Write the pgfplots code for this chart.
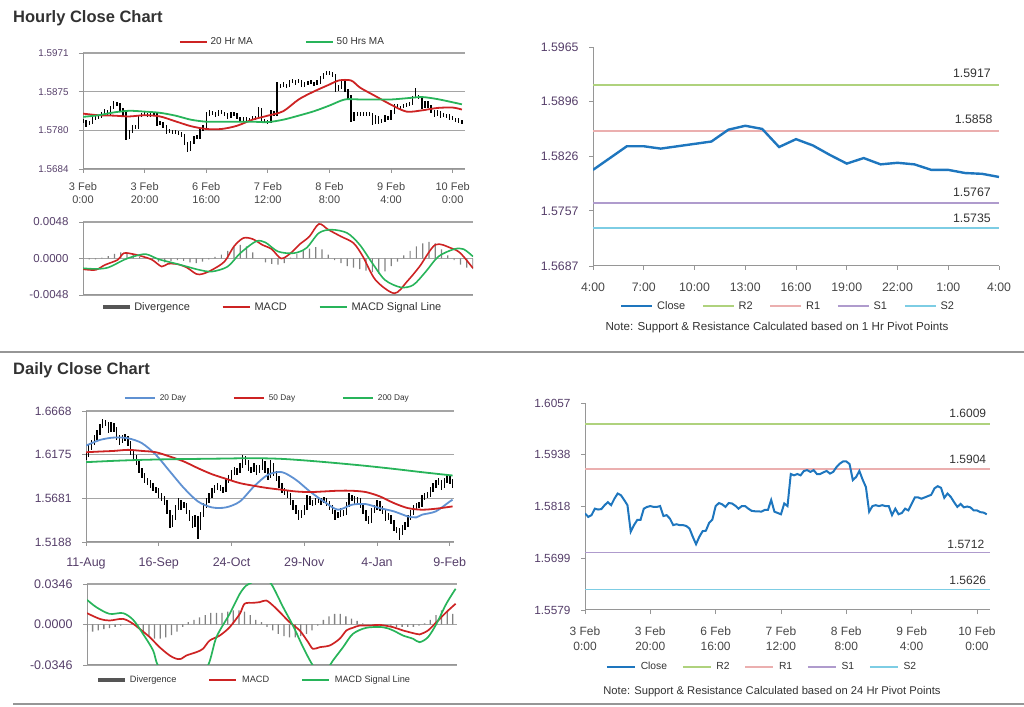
\documentclass[border=0pt]{standalone}
\usepackage{pgfplots}
\pgfplotsset{compat=1.18}
\usepackage{pgfplotstable}
\usepackage{fontspec}
\setmainfont{Liberation Sans}
\definecolor{tkY}{RGB}{85,62,105}
\definecolor{tkX}{RGB}{70,70,70}
\definecolor{axg}{RGB}{150,150,150}
\definecolor{gridc}{RGB}{165,165,165}
\definecolor{maR}{RGB}{205,35,35}
\definecolor{maG}{RGB}{40,180,90}
\definecolor{maB}{RGB}{95,145,210}
\definecolor{clB}{RGB}{30,118,190}
\definecolor{pR2}{RGB}{175,210,125}
\definecolor{pR1}{RGB}{235,175,175}
\definecolor{pS1}{RGB}{175,155,205}
\definecolor{pS2}{RGB}{125,205,228}
\definecolor{divg}{RGB}{130,130,130}
\definecolor{divl}{RGB}{85,85,85}
\definecolor{txt}{RGB}{50,50,50}

\pgfplotstableread{
t c ep em
0 1.5802 .0005 .0005
1 1.5794 .0011 .0005
2 1.5798 .0005 .0005
3 1.5813 .0005 .0018
4 1.5811 .0005 .0005
5 1.5812 .0005 .0005
6 1.5821 .0005 .0012
7 1.5828 .0005 .0010
8 1.5821 .0010 .0005
9 1.5836 .0005 .0018
10 1.5848 .0005 .0015
11 1.5844 .0005 .0005
12 1.5833 .0014 .0005
13 1.5821 .0015 .0005
14 1.5760 .0064 .0005
15 1.5775 .0005 .0018
16 1.5787 .0005 .0015
17 1.5787 .0005 .0005
18 1.5813 .0005 .0029
19 1.5817 .0005 .0005
20 1.5819 .0005 .0005
21 1.5817 .0005 .0005
22 1.5817 .0005 .0005
23 1.5819 .0005 .0005
24 1.5796 .0026 .0005
25 1.5798 .0005 .0005
26 1.5790 .0011 .0005
27 1.5775 .0018 .0005
28 1.5777 .0005 .0005
29 1.5775 .0005 .0005
30 1.5775 .0005 .0005
31 1.5773 .0005 .0005
32 1.5767 .0009 .0005
33 1.5748 .0022 .0005
34 1.5731 .0020 .0005
35 1.5748 .0005 .0020
36 1.5761 .0005 .0016
37 1.5762 .0005 .0005
38 1.5780 .0005 .0021
39 1.5788 .0005 .0011
40 1.5819 .0005 .0034
41 1.5826 .0005 .0010
42 1.5823 .0005 .0005
43 1.5817 .0009 .0005
44 1.5826 .0005 .0012
45 1.5825 .0005 .0005
46 1.5820 .0005 .0005
47 1.5813 .0010 .0005
48 1.5819 .0005 .0009
49 1.5819 .0005 .0005
50 1.5813 .0009 .0005
51 1.5808 .0005 .0005
52 1.5807 .0005 .0005
53 1.5807 .0005 .0005
54 1.5806 .0005 .0005
55 1.5810 .0005 .0005
56 1.5810 .0005 .0005
57 1.5833 .0005 .0026
58 1.5806 .0030 .0005
59 1.5803 .0005 .0005
60 1.5800 .0005 .0005
61 1.5825 .0005 .0028
62 1.5819 .0009 .0005
63 1.5893 .0005 .0077
64 1.5890 .0005 .0005
65 1.5893 .0005 .0005
66 1.5890 .0005 .0005
67 1.5900 .0005 .0013
68 1.5902 .0005 .0005
69 1.5898 .0005 .0005
70 1.5902 .0005 .0005
71 1.5893 .0012 .0005
72 1.5893 .0005 .0005
73 1.5897 .0005 .0005
74 1.5900 .0005 .0005
75 1.5894 .0005 .0005
76 1.5898 .0005 .0005
77 1.5909 .0005 .0014
78 1.5917 .0005 .0011
79 1.5922 .0005 .0005
80 1.5922 .0005 .0005
81 1.5916 .0009 .0005
82 1.5879 .0040 .0005
83 1.5886 .0005 .0010
84 1.5900 .0005 .0017
85 1.5880 .0023 .0005
86 1.5863 .0020 .0005
87 1.5806 .0060 .0005
88 1.5819 .0005 .0016
89 1.5821 .0005 .0005
90 1.5819 .0005 .0005
91 1.5821 .0005 .0005
92 1.5819 .0005 .0005
93 1.5819 .0005 .0005
94 1.5798 .0024 .0005
95 1.5813 .0005 .0018
96 1.5800 .0016 .0005
97 1.5803 .0005 .0005
98 1.5813 .0005 .0013
99 1.5809 .0005 .0005
100 1.5824 .0005 .0018
101 1.5839 .0005 .0018
102 1.5839 .0005 .0005
103 1.5836 .0005 .0005
104 1.5839 .0005 .0005
105 1.5842 .0005 .0005
106 1.5845 .0005 .0005
107 1.5860 .0005 .0018
108 1.5865 .0020 .0005
109 1.5861 .0005 .0005
110 1.5838 .0026 .0005
111 1.5848 .0005 .0013
112 1.5840 .0011 .0005
113 1.5828 .0015 .0005
114 1.5817 .0014 .0005
115 1.5824 .0005 .0010
116 1.5816 .0011 .0005
117 1.5818 .0005 .0005
118 1.5816 .0005 .0005
119 1.5809 .0010 .0005
120 1.5809 .0005 .0005
121 1.5805 .0005 .0005
122 1.5804 .0005 .0005
123 1.5800 .0005 .0005
}\hourly

\pgfplotstableread{
t r
0 1.5821
5 1.5817
10 1.5816
15 1.5814
20 1.5817
25 1.5814
30 1.5802
35 1.5790
40 1.5783
45 1.5783
50 1.5791
55 1.5806
60 1.5816
65 1.5827
70 1.5856
75 1.5876
80 1.5893
83 1.5903
87 1.5903
90 1.5885
95 1.5864
100 1.5843
105 1.5826
110 1.5829
115 1.5835
120 1.5836
123 1.5831
}\hma

\pgfplotstableread{
t g
0 1.5813
5 1.5817
10 1.5824
15 1.5828
20 1.5826
25 1.5823
30 1.5816
35 1.5806
40 1.5801
45 1.5801
50 1.5801
55 1.5801
60 1.5800
65 1.5806
70 1.5816
75 1.5827
80 1.5841
85 1.5856
90 1.5856
95 1.5856
100 1.5856
105 1.5859
110 1.5862
115 1.5857
120 1.5849
123 1.5844
}\hmb

\pgfplotstableread{
t m
0 -0.00141
4 -0.00150
7 -0.00084
11 -0.00018
13 0.00070
16 0.00057
19 0.00026
22 -0.00018
25 -0.00106
27 -0.00070
30 -0.00075
33 -0.00119
36 -0.00203
38 -0.00203
41 -0.00150
45 -0.00040
48 0.00159
51 0.00269
54 0.00255
57 0.00180
60 0.00123
63 0.00000
66 0.00070
69 0.00190
72 0.00290
75 0.00454
78 0.00379
82 0.00290
86 0.00203
89 0.00026
93 -0.00282
99 -0.00458
103 -0.00304
107 -0.00106
112 0.00180
117 0.00137
120 0.00070
124 -0.00128
}\hmacd

\pgfplotstableread{
t s
0 -0.00128
4 -0.00137
8 -0.00119
13 -0.00018
16 0.00026
20 0.00057
24 -0.00009
29 -0.00062
33 -0.00106
37 -0.00150
41 -0.00172
46 -0.00106
50 0.00070
55 0.00225
58 0.00211
62 0.00092
67 0.00070
71 0.00137
75 0.00335
79 0.00379
84 0.00335
88 0.00180
92 -0.00062
96 -0.00282
101 -0.00379
105 -0.00348
109 -0.00172
113 0.00026
118 0.00123
121 0.00123
124 0.00026
}\hsig

\pgfplotstableread{
t d
0 0.0000
2 -0.0001
4 -0.0001
6 0.0001
8 0.0003
10 0.0006
12 0.0008
14 0.0008
16 0.0006
18 0.0002
20 0.0001
22 -0.0002
24 -0.0004
26 -0.0005
28 -0.0003
30 -0.0002
32 -0.0003
34 -0.0005
36 -0.0006
38 -0.0004
40 -0.0001
42 0.0002
44 0.0005
46 0.0010
48 0.0015
50 0.0018
52 0.0016
54 0.0008
56 0.0000
58 -0.0005
60 -0.0007
62 -0.0008
64 -0.0006
66 0.0001
68 0.0006
70 0.0010
72 0.0013
74 0.0015
76 0.0012
78 0.0005
80 -0.0002
82 -0.0006
84 -0.0010
86 -0.0012
88 -0.0014
90 -0.0016
92 -0.0018
94 -0.0020
96 -0.0017
98 -0.0010
100 -0.0004
102 0.0004
104 0.0010
106 0.0016
108 0.0020
110 0.0022
112 0.0020
114 0.0012
116 0.0004
118 -0.0002
120 -0.0008
122 -0.0012
124 -0.0014
}\hdiv

\pgfplotstableread{
h c
0 1.5809
1 1.5824
2 1.5839
3 1.5839
4 1.5836
5 1.5839
6 1.5842
7 1.5845
8 1.5860
9 1.5865
10 1.5861
11 1.5838
12 1.5848
13 1.5840
14 1.5828
15 1.5817
16 1.5824
17 1.5816
18 1.5818
19 1.5816
20 1.5809
21 1.5809
22 1.5805
23 1.5804
24 1.5800
}\pivh

\pgfplotstableread{
i c ep em
0 1.6172 .0035 .0060
1 1.6247 .0035 .0095
2 1.6304 .0035 .0077
3 1.6360 .0035 .0076
4 1.6416 .0035 .0076
5 1.6491 .0035 .0095
6 1.6548 .0035 .0077
7 1.6529 .0035 .0035
8 1.6454 .0095 .0035
9 1.6510 .0035 .0076
10 1.6465 .0065 .0035
11 1.6379 .0106 .0035
12 1.6322 .0077 .0035
13 1.6360 .0035 .0058
14 1.6368 .0035 .0035
15 1.6304 .0084 .0035
16 1.6210 .0114 .0035
17 1.6153 .0077 .0035
18 1.6097 .0076 .0035
19 1.6003 .0114 .0035
20 1.5947 .0076 .0035
21 1.5891 .0076 .0035
22 1.5872 .0035 .0035
23 1.5834 .0058 .0035
24 1.5797 .0057 .0035
25 1.5778 .0035 .0035
26 1.5721 .0077 .0035
27 1.5684 .0057 .0035
28 1.5646 .0058 .0035
29 1.5534 .0132 .0035
30 1.5383 .0171 .0035
31 1.5459 .0035 .0096
32 1.5571 .0035 .0132
33 1.5646 .0035 .0095
34 1.5590 .0076 .0035
35 1.5609 .0035 .0035
36 1.5534 .0095 .0035
37 1.5459 .0095 .0035
38 1.5383 .0096 .0035
39 1.5459 .0035 .0096
40 1.5346 .0133 .0120
41 1.5496 .0035 .0170
42 1.5590 .0035 .0114
43 1.5646 .0035 .0076
44 1.5703 .0035 .0077
45 1.5759 .0035 .0076
46 1.5797 .0035 .0058
47 1.5815 .0035 .0035
48 1.5797 .0035 .0035
49 1.5778 .0035 .0035
50 1.5872 .0035 .0114
51 1.5909 .0035 .0057
52 1.5966 .0035 .0077
53 1.6003 .0035 .0057
54 1.5984 .0035 .0035
55 1.6041 .0035 .0077
56 1.6116 .0050 .0095
57 1.6097 .0060 .0035
58 1.6022 .0095 .0035
59 1.6003 .0035 .0035
60 1.6041 .0035 .0058
61 1.5984 .0077 .0035
62 1.6022 .0035 .0058
63 1.6078 .0060 .0076
64 1.6003 .0095 .0035
65 1.5928 .0095 .0035
66 1.6060 .0060 .0152
67 1.5966 .0114 .0035
68 1.5909 .0077 .0035
69 1.5834 .0095 .0035
70 1.5778 .0076 .0035
71 1.5759 .0035 .0035
72 1.5721 .0058 .0035
73 1.5646 .0095 .0035
74 1.5590 .0076 .0035
75 1.5534 .0076 .0035
76 1.5477 .0077 .0035
77 1.5515 .0035 .0058
78 1.5571 .0035 .0076
79 1.5684 .0035 .0133
80 1.5646 .0058 .0035
81 1.5628 .0035 .0035
82 1.5646 .0035 .0035
83 1.5665 .0035 .0035
84 1.5646 .0035 .0035
85 1.5665 .0035 .0035
86 1.5628 .0057 .0035
87 1.5590 .0058 .0035
88 1.5534 .0076 .0035
89 1.5477 .0077 .0035
90 1.5496 .0035 .0035
91 1.5534 .0035 .0058
92 1.5515 .0035 .0035
93 1.5609 .0035 .0114
94 1.5703 .0035 .0114
95 1.5684 .0035 .0035
96 1.5646 .0058 .0035
97 1.5665 .0035 .0035
98 1.5609 .0076 .0035
99 1.5534 .0095 .0035
100 1.5459 .0095 .0035
101 1.5421 .0058 .0035
102 1.5534 .0035 .0133
103 1.5571 .0035 .0057
104 1.5628 .0035 .0077
105 1.5571 .0077 .0035
106 1.5534 .0057 .0035
107 1.5459 .0095 .0035
108 1.5477 .0035 .0035
109 1.5421 .0076 .0035
110 1.5346 .0095 .0035
111 1.5327 .0035 .0035
112 1.5290 .0057 .0080
113 1.5346 .0035 .0076
114 1.5383 .0035 .0057
115 1.5459 .0035 .0096
116 1.5515 .0035 .0076
117 1.5571 .0035 .0076
118 1.5590 .0035 .0035
119 1.5609 .0035 .0035
120 1.5684 .0035 .0095
121 1.5703 .0035 .0035
122 1.5721 .0035 .0035
123 1.5778 .0035 .0077
124 1.5815 .0035 .0057
125 1.5853 .0035 .0058
126 1.5872 .0035 .0035
127 1.5815 .0077 .0035
128 1.5872 .0035 .0077
129 1.5909 .0040 .0057
130 1.5879 .0050 .0035
131 1.5834 .0065 .0035
}\daily

\pgfplotstableread{
i b
0 1.6277
5 1.6341
10 1.6368
15 1.6360
20 1.6304
25 1.6172
30 1.5984
35 1.5797
40 1.5646
45 1.5579
50 1.5579
55 1.5646
60 1.5815
65 1.5947
70 1.5977
75 1.5891
80 1.5759
85 1.5646
90 1.5553
95 1.5609
100 1.5616
105 1.5571
110 1.5534
115 1.5477
118 1.5466
120 1.5496
125 1.5534
130 1.5646
131 1.5665
}\dtw

\pgfplotstableread{
i r
0 1.6202
5 1.6210
10 1.6217
15 1.6229
20 1.6217
25 1.6202
30 1.6153
35 1.6097
40 1.6022
45 1.5954
50 1.5902
55 1.5853
60 1.5823
65 1.5797
70 1.5778
75 1.5759
80 1.5752
85 1.5759
90 1.5767
95 1.5767
100 1.5752
105 1.5703
110 1.5628
115 1.5571
120 1.5553
125 1.5564
131 1.5590
}\dfi

\pgfplotstableread{
i g
0 1.6090
10 1.6105
20 1.6116
30 1.6123
40 1.6127
50 1.6131
60 1.6135
70 1.6127
80 1.6105
90 1.6078
100 1.6048
110 1.6014
120 1.5977
131 1.5939
}\dth

\pgfplotstableread{
i m
0 0.0097
4.5 0.0048
8 0.0034
12.8 0.0048
16.4 0.0006
18.7 -0.0037
22.3 -0.0108
25.8 -0.0194
29.4 -0.0265
31.8 -0.0293
33.5 -0.0293
35.3 -0.0265
38.9 -0.0236
41.2 -0.0208
43.6 -0.0137
47.2 -0.0094
50.7 -0.0023
54.3 0.0091
56 0.0177
59 0.0185
61.4 0.0191
63.7 0.0205
66.1 0.0162
69.1 0.0091
72 0.0020
75.6 -0.0051
78.6 -0.0151
80.3 -0.0208
82.7 -0.0194
86.3 -0.0179
89.8 -0.0122
92.2 -0.0051
94.5 -0.0028
96.9 -0.0009
100.5 -0.0009
104 -0.0003
108.8 -0.0023
112.3 -0.0051
117 -0.0080
118.2 -0.0085
121.2 -0.0051
124.2 0.0020
127.7 0.0105
131 0.0177
}\dmacd

\pgfplotstableread{
i s
0 0.0211
3.3 0.0148
8 0.0091
12.8 0.0097
16.4 0.0040
19.9 -0.0080
23.5 -0.0222
25.2 -0.0350
30 -0.0500
34 -0.0550
38 -0.0470
43 -0.0350
46 -0.0108
50.7 0.0091
54.3 0.0262
56.6 0.0333
59 0.0365
62 0.0420
65.5 0.0346
69.7 0.0148
73.2 -0.0009
76.8 -0.0194
80.3 -0.0350
83 -0.0400
86.3 -0.0350
87.4 -0.0308
91 -0.0194
94.5 -0.0080
99.3 -0.0028
105.2 -0.0023
108.8 -0.0051
112.3 -0.0094
115.9 -0.0122
118.2 -0.0151
121.2 -0.0108
124.2 0.0006
127.7 0.0177
131 0.0305
}\dsig

\pgfplotstableread{
i d
0 -0.006
2 -0.006
4 -0.005
6 -0.004
8 -0.003
10 -0.002
12 -0.001
14 0.000
16 0.001
18 -0.003
20 -0.007
22 -0.010
24 -0.012
26 -0.012
28 -0.011
30 -0.009
32 -0.006
34 -0.002
36 0.002
38 0.004
40 0.006
42 0.008
44 0.010
46 0.010
48 0.010
50 0.011
52 0.012
54 0.012
56 0.011
58 0.008
60 0.004
62 0.002
64 -0.002
66 -0.005
68 -0.008
70 -0.010
72 -0.011
74 -0.011
76 -0.010
78 -0.008
80 -0.005
82 -0.001
84 0.004
86 0.007
88 0.009
90 0.009
92 0.007
94 0.005
96 0.003
98 0.001
100 0.000
102 -0.001
104 -0.001
106 0.000
108 -0.001
110 -0.002
112 -0.002
114 -0.002
116 -0.002
118 -0.001
120 0.001
122 0.004
124 0.008
126 0.012
128 0.011
130 0.009
}\ddiv

\pgfplotsset{
 base/.style={scale only axis, anchor=south west, axis lines*=left, scaled ticks=false,
   axis line style={axg, line width=1pt}, tick align=outside, major tick length=4pt,
   every tick/.style={axg, line width=0.8pt}, yticklabel style={text=tkY, xshift=-7pt},
   legend cell align=left, legend columns=-1,
   legend image code/.code={\draw[#1] (0pt,0pt) -- (27pt,0pt);}},
 withgrid/.style={ymajorgrids, grid style={gridc, line width=1.1pt}},
 divlegend/.style={legend image code/.code={\fill[divl] (0pt,-2.2pt) rectangle (27pt,2.2pt);}},
 ohlc/.style={forget plot, draw=none, mark=none,
   error bars/.cd, y dir=both, y explicit, error mark=none,
   error bar style={draw=black, line width=#1}},
}

\begin{document}
\begin{tikzpicture}
\path[use as bounding box] (0pt,0pt) rectangle (1024pt,706pt);
\node[anchor=base west, inner sep=0pt, text=txt, font=\fontsize{16.5}{18}\selectfont\bfseries] at (13pt,683.3pt) {Hourly Close Chart};
\node[anchor=base west, inner sep=0pt, text=txt, font=\fontsize{16.5}{18}\selectfont\bfseries] at (13pt,331pt) {Daily Close Chart};
\draw[axg, line width=2pt] (0pt,354pt) -- (1024pt,354pt);
\draw[axg, line width=2pt] (13pt,2pt) -- (1024pt,2pt);

% Panel 1: hourly price
\begin{axis}[base, withgrid, at={(83pt,537pt)}, width=382pt, height=116pt,
  xmin=0, xmax=124, ymin=1.5684, ymax=1.5971,
  xtick={0,20,40,60,80,100,120},
  xticklabels={{3 Feb\\0:00},{3 Feb\\20:00},{6 Feb\\16:00},{7 Feb\\12:00},{8 Feb\\8:00},{9 Feb\\4:00},{10 Feb\\0:00}},
  xticklabel style={align=center, text=tkX, font=\fontsize{11}{13}\selectfont, yshift=-6pt},
  ytick={1.5684,1.5780,1.5875,1.5971},
  yticklabels={1.5684,1.5780,1.5875,1.5971},
  yticklabel style={font=\fontsize{9.8}{11}\selectfont},
  legend style={at={(0.522,1.095)}, anchor=center, draw=none, fill=none, inner sep=0pt,
    font=\fontsize{10}{12}\selectfont, text=txt,
    /tikz/every odd column/.append style={column sep=1pt},
    /tikz/every even column/.append style={column sep=50pt}}]
\addplot[ohlc=1.3pt] table[x=t, y=c, y error plus=ep, y error minus=em] {\hourly};
\addplot[maR, line width=1.8pt, smooth] table[x=t, y=r] {\hma};
\addlegendentry{20 Hr MA}
\addplot[maG, line width=1.8pt, smooth] table[x=t, y=g] {\hmb};
\addlegendentry{50 Hrs MA}
\end{axis}

% Panel 2: hourly MACD
\begin{axis}[base, withgrid, at={(83pt,411pt)}, width=390pt, height=73pt,
  xmin=0, xmax=124, ymin=-0.0048, ymax=0.0048, xtick=\empty,
  ytick={-0.0048,0,0.0048}, yticklabels={-0.0048,0.0000,0.0048},
  yticklabel style={font=\fontsize{11.5}{13}\selectfont},
  legend style={at={(0.488,-0.164)}, anchor=center, draw=none, fill=none, inner sep=0pt,
    font=\fontsize{11}{13}\selectfont, text=txt,
    /tikz/every odd column/.append style={column sep=2pt},
    /tikz/every even column/.append style={column sep=30pt}}]
\addplot[ybar, bar width=1.2pt, bar shift=0pt, fill=divg, draw=none, divlegend] table[x=t, y=d] {\hdiv};
\addlegendentry{Divergence}
\addplot[maR, line width=1.6pt, smooth] table[x=t, y=m] {\hmacd};
\addlegendentry{MACD}
\addplot[maG, line width=1.6pt, smooth] table[x=t, y=s] {\hsig};
\addlegendentry{MACD Signal Line}
\end{axis}

% Panel 3: hourly pivot
\begin{axis}[base, at={(593pt,440pt)}, width=406pt, height=219pt,
  xmin=0, xmax=24, ymin=1.5687, ymax=1.5965,
  xtick={0,3,6,9,12,15,18,21,24},
  xticklabels={4:00,7:00,10:00,13:00,16:00,19:00,22:00,1:00,4:00},
  xticklabel style={text=tkX, font=\fontsize{12.3}{14}\selectfont, yshift=-9pt},
  ytick={1.5687,1.5757,1.5826,1.5896,1.5965},
  yticklabels={1.5687,1.5757,1.5826,1.5896,1.5965},
  yticklabel style={font=\fontsize{12.3}{14}\selectfont},
  legend style={at={(0.48,-0.183)}, anchor=center, draw=none, fill=none, inner sep=0pt,
    font=\fontsize{11}{13}\selectfont, text=txt,
    /tikz/every odd column/.append style={column sep=2pt},
    /tikz/every even column/.append style={column sep=15pt}},
  legend image code/.code={\draw[#1] (0pt,0pt) -- (31pt,0pt);}]
\addplot[forget plot, pR2, line width=1.6pt] coordinates {(0,1.5917) (24,1.5917)};
\addplot[forget plot, pR1, line width=1.6pt] coordinates {(0,1.5858) (24,1.5858)};
\addplot[forget plot, pS1, line width=1.6pt] coordinates {(0,1.5767) (24,1.5767)};
\addplot[forget plot, pS2, line width=1.6pt] coordinates {(0,1.5735) (24,1.5735)};
\addplot[clB, line width=2.4pt] table[x=h, y=c] {\pivh};
\addlegendentry{Close}
\addlegendimage{pR2, line width=1.4pt}\addlegendentry{R2}
\addlegendimage{pR1, line width=1.4pt}\addlegendentry{R1}
\addlegendimage{pS1, line width=1.4pt}\addlegendentry{S1}
\addlegendimage{pS2, line width=1.4pt}\addlegendentry{S2}
\node[anchor=base, inner sep=0pt, text=txt, font=\fontsize{12.3}{14}\selectfont, yshift=7pt] at (axis cs:22.4,1.5917) {1.5917};
\node[anchor=base, inner sep=0pt, text=txt, font=\fontsize{12.3}{14}\selectfont, yshift=8pt] at (axis cs:22.5,1.5858) {1.5858};
\node[anchor=base, inner sep=0pt, text=txt, font=\fontsize{12.3}{14}\selectfont, yshift=6pt] at (axis cs:22.4,1.5767) {1.5767};
\node[anchor=base, inner sep=0pt, text=txt, font=\fontsize{12.3}{14}\selectfont, yshift=6pt] at (axis cs:22.4,1.5735) {1.5735};
\end{axis}
\node[text=txt, font=\fontsize{11.6}{13}\selectfont] at (777pt,378pt) {Note: Support \& Resistance Calculated based on 1 Hr Pivot Points};

% Panel 4: daily price
\begin{axis}[base, withgrid, at={(86pt,164pt)}, width=368pt, height=131pt,
  xmin=0, xmax=131.5, ymin=1.5188, ymax=1.6668,
  xtick={0,26,52,78,104,130},
  xticklabels={11-Aug,16-Sep,24-Oct,29-Nov,4-Jan,9-Feb},
  xticklabel style={text=tkY, font=\fontsize{12.5}{14}\selectfont, yshift=-8pt},
  ytick={1.5188,1.5681,1.6175,1.6668},
  yticklabels={1.5188,1.5681,1.6175,1.6668},
  yticklabel style={font=\fontsize{12}{14}\selectfont},
  legend style={at={(0.493,1.099)}, anchor=center, draw=none, fill=none, inner sep=0pt,
    font=\fontsize{8.3}{10}\selectfont, text=txt,
    /tikz/every odd column/.append style={column sep=2pt},
    /tikz/every even column/.append style={column sep=45pt}},
  legend image code/.code={\draw[#1] (0pt,0pt) -- (30pt,0pt);}]
\addplot[ohlc=1.4pt] table[x=i, y=c, y error plus=ep, y error minus=em] {\daily};
\addplot[maB, line width=1.8pt, smooth] table[x=i, y=b] {\dtw};
\addlegendentry{20 Day}
\addplot[maR, line width=1.8pt, smooth] table[x=i, y=r] {\dfi};
\addlegendentry{50 Day}
\addplot[maG, line width=1.8pt, smooth] table[x=i, y=g] {\dth};
\addlegendentry{200 Day}
\end{axis}

% Panel 5: daily MACD
\begin{axis}[base, withgrid, at={(87pt,41pt)}, width=370pt, height=81pt,
  xmin=0, xmax=131.5, ymin=-0.0346, ymax=0.0346, xtick=\empty,
  ytick={-0.0346,0,0.0346}, yticklabels={-0.0346,0.0000,0.0346},
  yticklabel style={font=\fontsize{12.5}{14}\selectfont},
  legend style={at={(0.454,-0.185)}, anchor=center, draw=none, fill=none, inner sep=0pt,
    font=\fontsize{9.2}{11}\selectfont, text=txt,
    /tikz/every odd column/.append style={column sep=3pt},
    /tikz/every even column/.append style={column sep=30pt}}]
\addplot[ybar, bar width=1.3pt, bar shift=0pt, fill=divg, draw=none, divlegend] table[x=i, y=d] {\ddiv};
\addlegendentry{Divergence}
\addplot[maR, line width=1.7pt, smooth] table[x=i, y=m] {\dmacd};
\addlegendentry{MACD}
\addplot[maG, line width=1.7pt, smooth] table[x=i, y=s] {\dsig};
\addlegendentry{MACD Signal Line}
\end{axis}

% Panel 6: hourly close, week
\begin{axis}[base, at={(585pt,96pt)}, width=405pt, height=207pt,
  xmin=0, xmax=124, ymin=1.5579, ymax=1.6057,
  xtick={0,20,40,60,80,100,120},
  xticklabels={{3 Feb\\0:00},{3 Feb\\20:00},{6 Feb\\16:00},{7 Feb\\12:00},{8 Feb\\8:00},{9 Feb\\4:00},{10 Feb\\0:00}},
  xticklabel style={align=center, text=tkX, font=\fontsize{12}{15}\selectfont, yshift=-9pt},
  ytick={1.5579,1.5699,1.5818,1.5938,1.6057},
  yticklabels={1.5579,1.5699,1.5818,1.5938,1.6057},
  yticklabel style={font=\fontsize{11.8}{14}\selectfont},
  legend style={at={(0.437,-0.275)}, anchor=center, draw=none, fill=none, inner sep=0pt,
    font=\fontsize{10.3}{12}\selectfont, text=txt,
    /tikz/every odd column/.append style={column sep=3pt},
    /tikz/every even column/.append style={column sep=13pt}},
  legend image code/.code={\draw[#1] (0pt,0pt) -- (28pt,0pt);}]
\addplot[forget plot, pR2, line width=1.7pt] coordinates {(0,1.6009) (124,1.6009)};
\addplot[forget plot, pR1, line width=1.7pt] coordinates {(0,1.5904) (124,1.5904)};
\addplot[forget plot, pS1, line width=1.7pt] coordinates {(0,1.5712) (124,1.5712)};
\addplot[forget plot, pS2, line width=1.7pt] coordinates {(0,1.5626) (124,1.5626)};
\addplot[clB, line width=2pt] table[x=t, y=c] {\hourly};
\addlegendentry{Close}
\addlegendimage{pR2, line width=1.4pt}\addlegendentry{R2}
\addlegendimage{pR1, line width=1.4pt}\addlegendentry{R1}
\addlegendimage{pS1, line width=1.4pt}\addlegendentry{S1}
\addlegendimage{pS2, line width=1.4pt}\addlegendentry{S2}
\node[anchor=base, inner sep=0pt, text=txt, font=\fontsize{12}{14}\selectfont, yshift=6pt] at (axis cs:117.2,1.6009) {1.6009};
\node[anchor=base, inner sep=0pt, text=txt, font=\fontsize{12}{14}\selectfont, yshift=6pt] at (axis cs:117.2,1.5904) {1.5904};
\node[anchor=base, inner sep=0pt, text=txt, font=\fontsize{12}{14}\selectfont, yshift=4pt] at (axis cs:116.6,1.5712) {1.5712};
\node[anchor=base, inner sep=0pt, text=txt, font=\fontsize{12}{14}\selectfont, yshift=5pt] at (axis cs:117.2,1.5626) {1.5626};
\end{axis}
\node[text=txt, font=\fontsize{11.2}{13}\selectfont] at (772pt,14pt) {Note: Support \& Resistance Calculated based on 24 Hr Pivot Points};
\end{tikzpicture}
\end{document}
